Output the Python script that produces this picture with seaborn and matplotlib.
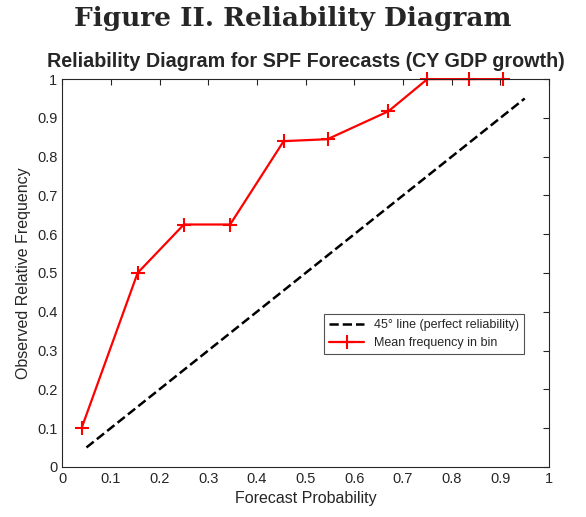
import matplotlib
matplotlib.use("Agg")
import matplotlib.pyplot as plt
import seaborn as sns
import pandas as pd

forecast_prob = [0.04, 0.155, 0.25, 0.345, 0.455, 0.545, 0.67, 0.75, 0.835, 0.905]
observed_freq = [0.10, 0.50, 0.625, 0.625, 0.84, 0.845, 0.917, 1.0, 1.0, 1.0]
diag = [0.05, 0.95]
ticks = [0, 0.1, 0.2, 0.3, 0.4, 0.5, 0.6, 0.7, 0.8, 0.9, 1]
tick_labels = ["0", "0.1", "0.2", "0.3", "0.4", "0.5", "0.6", "0.7", "0.8", "0.9", "1"]

sns.set_style("white")
plt.rcParams['font.family'] = ['Liberation Sans', 'DejaVu Sans']
fig = plt.figure(figsize=(5.86, 5.17), dpi=100)
ax = fig.add_axes([0.106, 0.097, 0.831, 0.750])

df_d = pd.DataFrame({"x": diag, "y": diag})
df = pd.DataFrame({"x": forecast_prob, "y": observed_freq})
sns.lineplot(data=df_d, x="x", y="y", ax=ax, color="black", linestyle="--", linewidth=1.8,
             label="45° line (perfect reliability)")
sns.lineplot(data=df, x="x", y="y", ax=ax, color="red", marker="+", markersize=10,
             markeredgewidth=1.5, markeredgecolor="red", linewidth=1.6,
             label="Mean frequency in bin", clip_on=False)

ax.set_xlim(0, 1); ax.set_ylim(0, 1)
ax.set_xticks(ticks); ax.set_xticklabels(tick_labels)
ax.set_yticks(ticks); ax.set_yticklabels(tick_labels)
ax.tick_params(direction="in", top=True, right=True, length=4, labelsize=10.5, colors="#262626")
for s in ax.spines.values():
    s.set_color("#262626"); s.set_linewidth(0.8)
ax.set_xlabel("Forecast Probability", fontsize=11.5, color="#262626")
ax.set_ylabel("Observed Relative Frequency", fontsize=11.5, color="#262626")
ax.set_title("Reliability Diagram for SPF Forecasts (CY GDP growth)", fontsize=14.2,
             fontweight="bold", pad=9)
leg = ax.legend(loc="upper left", bbox_to_anchor=(0.525, 0.41), fontsize=9, frameon=True,
                fancybox=False, edgecolor="#262626", handlelength=2.8, borderpad=0.4)
leg.get_frame().set_linewidth(0.8)
fig.text(0.5, 0.964, "Figure II. Reliability Diagram", ha="center", va="center",
         fontsize=19, fontweight="bold", family=["DejaVu Serif"])
fig.savefig("out.png", dpi=100)
